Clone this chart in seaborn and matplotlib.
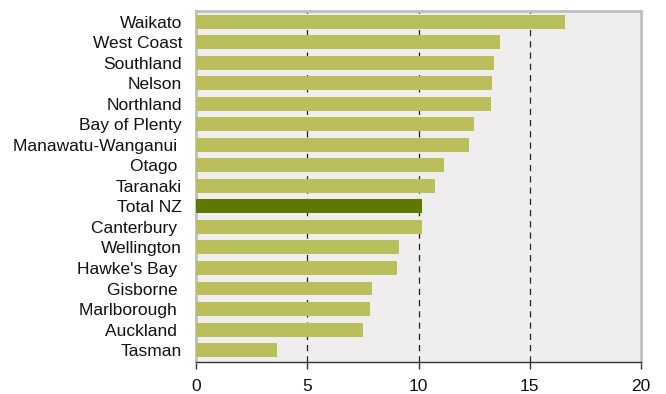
import matplotlib
matplotlib.use("Agg")
import matplotlib.pyplot as plt
import seaborn as sns
import pandas as pd

regions = ["Waikato", "West Coast", "Southland", "Nelson", "Northland",
           "Bay of Plenty", "Manawatu-Wanganui ", "Otago ", "Taranaki",
           "Total NZ", "Canterbury ", "Wellington", "Hawke's Bay ",
           "Gisborne ", "Marlborough ", "Auckland ", "Tasman"]
values = [16.6, 13.66, 13.39, 13.29, 13.24, 12.5, 12.27, 11.15, 10.74,
          10.14, 10.14, 9.12, 9.03, 7.91, 7.82, 7.5, 3.63]
x_ticks = [0, 5, 10, 15, 20]

bar_color = "#BBBF5B"
total_color = "#5E7800"
palette = [total_color if r.strip() == "Total NZ" else bar_color for r in regions]

df = pd.DataFrame({"region": regions, "value": values})

sns.set_theme(style="white")
plt.rcParams["font.family"] = ["Liberation Sans", "DejaVu Sans"]

fig = plt.figure(figsize=(6.66, 3.94), dpi=100)
ax = fig.add_axes([196 / 666, 1 - 362 / 394, (641 - 196) / 666, (362 - 11) / 394])

sns.barplot(data=df, y="region", x="value", hue="region", palette=palette,
            legend=False, width=0.68, saturation=1, linewidth=0,
            ax=ax, zorder=3)

ax.set_facecolor("#EFEDED")
ax.set_xlim(0, 20)
ax.set_ylim(len(regions) - 0.5 + 0.08, -0.5 - 0.02)
ax.set_xticks(x_ticks)
ax.set_xticklabels([str(t) for t in x_ticks], fontsize=12.5, color="#111111")
ax.tick_params(axis="x", direction="out", length=5, width=1, color="#333333", pad=7, bottom=True)
ax.tick_params(axis="y", length=0, labelsize=12.5, labelcolor="#111111", pad=10)
ax.set_xlabel("")
ax.set_ylabel("")

for t in x_ticks[1:-1]:
    ax.axvline(t, color="#222222", linewidth=0.9, linestyle=(0, (5, 4)), zorder=2)

for side in ["top", "right", "left"]:
    ax.spines[side].set_color("#BFBFBF")
    ax.spines[side].set_linewidth(2)
ax.spines["bottom"].set_color("#333333")
ax.spines["bottom"].set_linewidth(1)

fig.savefig("out.png", dpi=100)
